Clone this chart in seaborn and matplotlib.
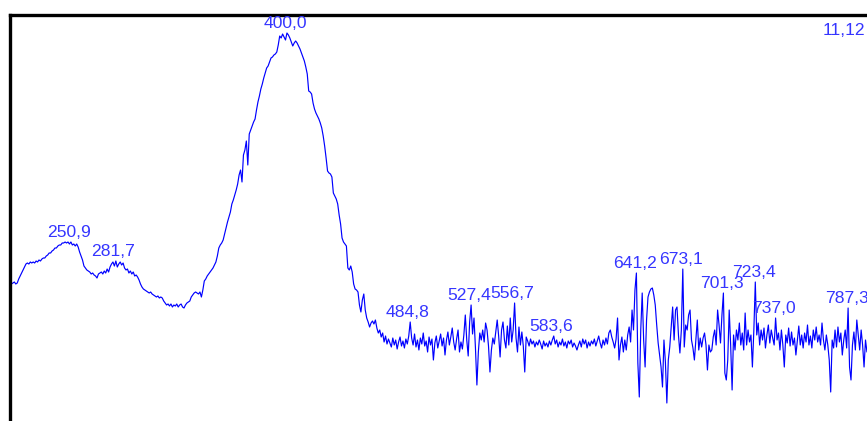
import numpy as np
import pandas as pd
import matplotlib
matplotlib.use("Agg")
import matplotlib.pyplot as plt
import seaborn as sns

# Absorption spectrum sampled every 1 nm from 209 nm to 800 nm
wl_start, wl_stop = 209, 800
absorbance = [
    1.36, 1.37, 1.38, 1.39, 1.37, 1.38, 1.42, 1.45, 1.48, 1.51,
    1.54, 1.57, 1.58, 1.57, 1.59, 1.58, 1.59, 1.58, 1.60, 1.59,
    1.61, 1.60, 1.62, 1.63, 1.63, 1.65, 1.66, 1.68, 1.68, 1.70,
    1.71, 1.73, 1.73, 1.75, 1.76, 1.76, 1.78, 1.78, 1.79, 1.78,
    1.79, 1.77, 1.79, 1.76, 1.77, 1.75, 1.77, 1.74, 1.69, 1.65,
    1.61, 1.55, 1.53, 1.51, 1.50, 1.49, 1.47, 1.48, 1.46, 1.45,
    1.43, 1.47, 1.48, 1.49, 1.47, 1.50, 1.48, 1.52, 1.49, 1.54,
    1.57, 1.59, 1.55, 1.60, 1.54, 1.57, 1.59, 1.56, 1.58, 1.53,
    1.51, 1.52, 1.48, 1.50, 1.47, 1.49, 1.45, 1.46, 1.44, 1.41,
    1.37, 1.34, 1.32, 1.31, 1.30, 1.29, 1.28, 1.29, 1.27, 1.26,
    1.25, 1.24, 1.25, 1.23, 1.24, 1.23, 1.20, 1.18, 1.16, 1.17,
    1.15, 1.17, 1.14, 1.16, 1.15, 1.17, 1.14, 1.16, 1.17, 1.14,
    1.13, 1.16, 1.18, 1.19, 1.20, 1.24, 1.26, 1.28, 1.29, 1.28,
    1.27, 1.29, 1.24, 1.31, 1.40, 1.42, 1.45, 1.47, 1.49, 1.51,
    1.53, 1.56, 1.59, 1.65, 1.73, 1.76, 1.78, 1.81, 1.87, 1.93,
    1.99, 2.04, 2.09, 2.17, 2.21, 2.26, 2.31, 2.37, 2.46, 2.51,
    2.39, 2.66, 2.71, 2.80, 2.56, 2.87, 2.91, 2.95, 2.99, 3.02,
    3.11, 3.19, 3.25, 3.32, 3.37, 3.43, 3.48, 3.53, 3.55, 3.59,
    3.63, 3.64, 3.66, 3.67, 3.69, 3.76, 3.85, 3.83, 3.87, 3.84,
    3.81, 3.88, 3.86, 3.83, 3.79, 3.75, 3.78, 3.80, 3.78, 3.75,
    3.72, 3.68, 3.64, 3.60, 3.54, 3.47, 3.30, 3.29, 3.27, 3.18,
    3.12, 3.08, 3.05, 3.02, 2.98, 2.93, 2.85, 2.75, 2.63, 2.50,
    2.48, 2.47, 2.44, 2.28, 2.25, 2.22, 2.17, 2.06, 1.97, 1.83,
    1.79, 1.77, 1.75, 1.53, 1.51, 1.55, 1.49, 1.37, 1.32, 1.31,
    1.29, 1.16, 1.09, 1.21, 1.27, 1.11, 1.03, 0.99, 0.94, 0.98,
    1.00, 0.97, 1.01, 0.93, 0.88, 0.91, 0.84, 0.88, 0.79, 0.85,
    0.77, 0.82, 0.78, 0.74, 0.83, 0.76, 0.81, 0.72, 0.79, 0.84,
    0.75, 0.80, 0.73, 0.82, 0.77, 0.85, 0.99, 0.83, 0.76, 0.87,
    0.74, 0.81, 0.71, 0.83, 0.77, 0.88, 0.75, 0.80, 0.69, 0.84,
    0.76, 0.82, 0.61, 0.78, 0.85, 0.73, 0.80, 0.87, 0.75, 0.83,
    0.66, 0.81, 0.89, 0.76, 0.84, 0.93, 0.79, 0.71, 0.82, 0.91,
    0.69, 0.79, 0.72, 0.86, 1.06, 0.81, 0.65, 0.99, 1.16, 0.87,
    1.03, 0.73, 0.36, 0.69, 0.88, 0.81, 0.91, 0.79, 0.98, 0.91,
    0.75, 0.49, 0.71, 0.83, 0.77, 0.89, 1.01, 0.85, 0.64, 0.91,
    0.99, 0.81, 0.73, 0.95, 0.76, 1.03, 0.79, 0.91, 1.18, 0.83,
    0.69, 0.94, 0.76, 0.89, 0.75, 0.49, 0.84, 0.80, 0.75, 0.82,
    0.77, 0.80, 0.74, 0.79, 0.76, 0.81, 0.77, 0.72, 0.80, 0.75,
    0.78, 0.74, 0.80, 0.76, 0.81, 0.85, 0.77, 0.81, 0.74, 0.79,
    0.76, 0.82, 0.75, 0.79, 0.73, 0.80, 0.77, 0.81, 0.74, 0.78,
    0.75, 0.71, 0.76, 0.80, 0.74, 0.82, 0.77, 0.81, 0.73, 0.79,
    0.75, 0.80, 0.77, 0.82, 0.75, 0.80, 0.85, 0.78, 0.73, 0.81,
    0.76, 0.83, 0.77, 0.88, 0.91, 0.84, 0.79, 0.73, 0.82, 1.03,
    0.61, 0.76, 0.84, 0.69, 0.81, 0.71, 0.86, 0.94, 0.79, 1.11,
    0.91, 1.31, 1.48, 0.58, 0.24, 0.91, 1.28, 0.81, 0.54, 1.01,
    1.24, 1.29, 1.32, 1.33, 1.26, 1.16, 0.96, 0.78, 0.66, 0.54,
    0.34, 0.81, 0.59, 0.18, 0.61, 0.74, 0.94, 1.14, 0.81, 1.11,
    1.14, 0.86, 0.68, 0.91, 1.52, 0.74, 0.96, 0.91, 1.06, 1.11,
    0.81, 0.73, 0.61, 0.81, 1.01, 0.71, 0.83, 0.74, 0.83, 0.88,
    0.76, 0.51, 0.76, 0.69, 0.71, 0.84, 0.91, 0.76, 1.11, 0.96,
    0.78, 1.06, 1.28, 0.48, 0.41, 0.61, 1.11, 0.76, 0.31, 0.86,
    0.71, 0.91, 0.81, 0.98, 0.76, 0.88, 0.71, 1.08, 0.76, 0.91,
    0.79, 0.86, 0.54, 0.91, 1.39, 0.86, 0.98, 0.76, 0.91, 0.81,
    0.93, 0.73, 0.86, 0.96, 0.78, 0.91, 0.83, 0.76, 1.03, 0.81,
    0.88, 0.71, 0.91, 0.76, 0.54, 0.86, 0.78, 0.93, 0.75, 0.89,
    0.76, 0.83, 0.66, 0.81, 0.95, 0.76, 0.86, 0.73, 0.88, 0.79,
    0.96, 0.76, 0.85, 0.73, 0.91, 0.81, 0.94, 0.79, 0.86, 0.76,
    0.98, 0.81, 0.71, 0.86, 0.76, 0.61, 0.29, 0.81, 0.73, 0.91,
    0.74, 0.94, 0.79, 0.88, 0.66, 0.81, 0.91, 0.73, 1.13, 0.54,
    0.41, 0.76, 0.89, 0.71, 1.01, 0.86, 0.71, 0.91, 0.76, 0.54,
    0.81, 0.69,
]
wavelength = np.arange(wl_start, wl_stop + 1)

# Picked peak positions (nm)
peak_wavelengths = [250.9, 281.7, 400.0, 484.8, 527.4, 556.7, 583.6,
                    641.2, 673.1, 701.3, 723.4, 737.0, 787.3]
corner_text = "11,12"

df = pd.DataFrame({"wavelength": wavelength, "absorbance": absorbance})

W, H, DPI = 867, 421, 100
sns.set_theme(style="white")
plt.rcParams["font.family"] = ["Liberation Sans", "DejaVu Sans"]

fig = plt.figure(figsize=(W / DPI, H / DPI), dpi=DPI)
fig.patch.set_facecolor("white")

# Plot frame: only its left and top edges fall inside the image
left_px, top_px, right_px, bottom_px = 10, 14.5, 1000, 521
ax = fig.add_axes([left_px / W, 1 - bottom_px / H,
                   (right_px - left_px) / W, (bottom_px - top_px) / H])

sns.lineplot(data=df, x="wavelength", y="absorbance", ax=ax,
             color="#0000ff", linewidth=0.85, estimator=None, sort=False)

px_per_nm = 1.45
ax.set_xlim(wl_start, wl_start + (right_px - left_px) / px_per_nm)
ax.set_ylim(4.21 - bottom_px / 100, 4.21 - top_px / 100)

ax.set_xlabel("")
ax.set_ylabel("")
ax.set_xticks([])
ax.set_yticks([])
for side, sp in ax.spines.items():
    sp.set_color("black")
    sp.set_linewidth(2.4)
ax.set_facecolor("white")

label_color = "#3535ff"
for wl in peak_wavelengths:
    idx = int(round(wl)) - wl_start
    yval = absorbance[idx]
    ax.annotate(f"{wl:.1f}".replace(".", ","), xy=(wl, yval),
                xytext=(-2, 5), textcoords="offset pixels",
                ha="center", va="baseline", fontsize=12.6,
                color=label_color)

fig.text(823 / W, 1 - 35 / H, corner_text, ha="left", va="baseline",
         fontsize=12.6, color=label_color)

fig.savefig("out.png", dpi=DPI, facecolor="white")
